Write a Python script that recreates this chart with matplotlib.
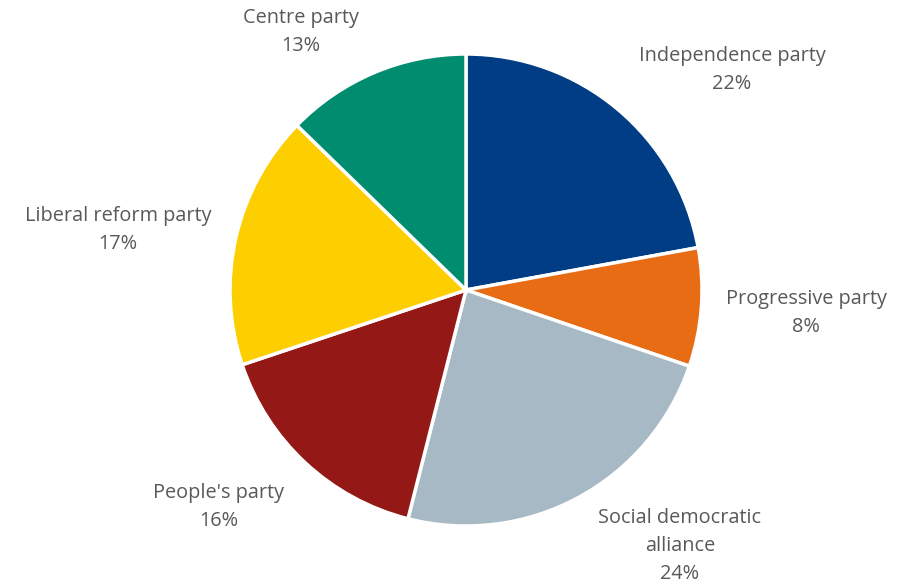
import matplotlib.pyplot as plt

parties = ["Independence party", "Progressive party", "Social democratic\nalliance",
           "People's party", "Liberal reform party", "Centre party"]
shares = [22.1, 8.1, 23.7, 15.9, 17.4, 12.7]
colors = ["#003d85", "#e86c14", "#a7b9c4", "#941816", "#fdcf00", "#008c6e"]

# label centres in pixel coords (x, y from top)
label_pos = [(732, 70), (806, 313), (680, 546), (219, 507), (118, 230), (301, 32)]

W, H = 902, 587
fig = plt.figure(figsize=(W / 100, H / 100), dpi=100)
ax = fig.add_axes([0, 0, 1, 1])

ax.pie(shares, colors=colors, startangle=90, counterclock=False,
       center=(466, H - 290), radius=236, frame=True,
       wedgeprops=dict(edgecolor="white", linewidth=2.5))
ax.set_xlim(0, W)
ax.set_ylim(0, H)
ax.set_aspect("equal")
ax.axis("off")

for name, val, (px, py) in zip(parties, shares, label_pos):
    ax.text(px, H - py, f"{name}\n{round(val)}%", ha="center", va="center",
            fontsize=14.3, color="#595959", family="Open Sans", linespacing=1.55)

fig.savefig("out.png", dpi=100)
